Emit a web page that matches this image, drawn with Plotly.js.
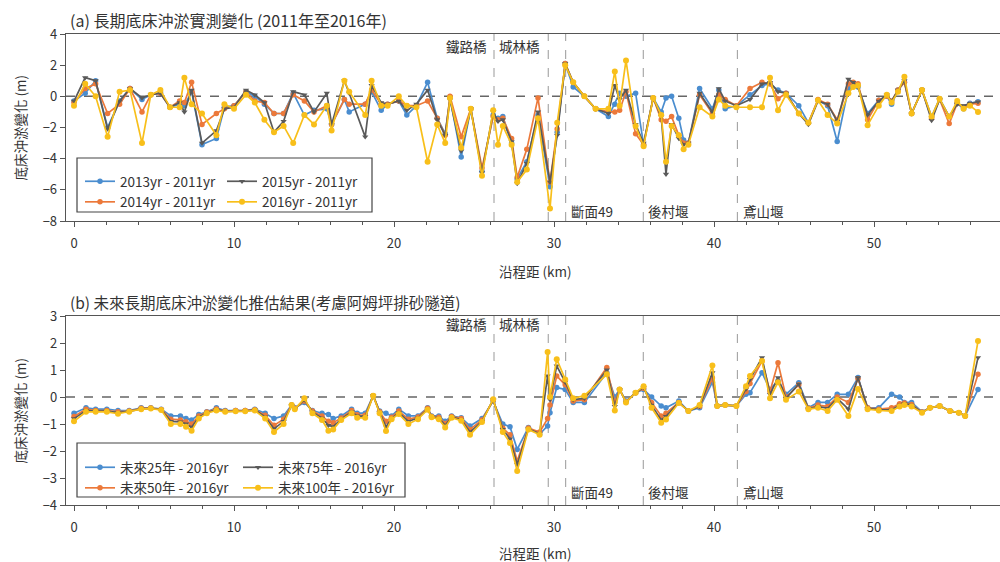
<!DOCTYPE html>
<html>
<head>
<meta charset="utf-8">
<script src="https://cdn.plot.ly/plotly-3.0.1.min.js"></script>
<style>
  html, body { margin: 0; padding: 0; background: #fff; }
  #chart { width: 1000px; height: 562px; }
</style>
</head>
<body>
<div id="chart"></div>
<script>
// (a) measured bed change, distance along channel (km)
const distA = [
  0.0, 0.7, 1.35, 2.1, 2.85, 3.5, 4.25, 4.8, 5.4, 6.0,
  6.6, 6.9, 7.35, 8.0, 8.9, 9.4, 10.0, 10.75, 11.3, 11.9,
  12.5, 13.1, 13.7, 14.4, 15.0, 15.8, 16.1, 16.9, 17.2, 18.2,
  18.6, 19.2, 19.6, 20.3, 20.8, 21.4, 22.1, 22.7, 23.2, 23.5,
  24.2, 24.8, 25.5, 26.2, 26.5, 26.8, 27.35, 27.7, 28.3, 29.0,
  29.75, 30.2, 30.7, 31.2, 31.9, 32.6, 33.4, 33.8, 34.1, 34.5,
  35.1, 35.6, 36.2, 36.7, 37.0, 37.35, 37.8, 38.1, 38.4, 39.1,
  39.9, 40.3, 40.7, 41.4, 42.25, 43.0, 43.5, 44.0, 44.5, 45.3,
  45.9, 46.5, 47.1, 47.7, 48.4, 48.7, 49.0, 49.6, 50.3, 50.8,
  51.1, 51.5, 51.9, 52.35, 53.0, 53.6, 54.1, 54.7, 55.2, 55.6,
  56.0, 56.5
];
const obs2013 = [
  -0.3, 0.2, 1.0, -2.0, -0.3, 0.5, -0.2, 0.1, 0.2, -0.7,
  -0.5, -0.6, 0.3, -3.1, -2.7, -0.7, -0.6, 0.3, 0.0, -0.5,
  -1.1, -1.1, 0.2, -1.2, -0.9, -0.8, -1.8, -0.2, -1.0, -0.5,
  0.3, -0.9, -0.5, -0.3, -1.2, -0.6, 0.9, -1.4, -2.4, -0.1,
  -3.9, -0.8, -4.8, -1.2, -1.4, -1.3, -3.0, -5.3, -4.2, -1.2,
  -5.8, -2.3, 2.1, 0.6, 0.0, -0.8, -1.3, -0.5, 0.2, 0.0,
  0.2, -3.1, -0.1, -1.0, -0.1, 0.0, -1.4, -2.8, -3.0, 0.5,
  -0.8, 0.4, -0.8, -0.6, 0.1, 0.7, 0.8, 0.4, 0.2, -0.6,
  -1.7, -0.25, -0.6, -2.9, 0.5, 0.7, 0.6, -1.1, -0.25, 0.0,
  -0.5, 0.4, 0.9, -1.1, 0.4, -1.3, -0.15, -1.3, -0.45, -0.8,
  -0.45, -0.35
];
const obs2014 = [
  -0.4, 0.5, 0.8, -1.1, -0.5, 0.5, -1.0, 0.1, 0.2, -0.7,
  -0.3, -0.4, 0.9, -1.8, -1.1, -0.8, -0.6, 0.3, -0.3, -0.4,
  -1.1, -1.1, 0.1, -0.3, -1.0, -0.6, -1.8, -0.2, -0.5, -0.5,
  0.4, -0.5, -0.5, -0.3, -0.6, -0.6, -0.3, -1.4, -2.5, 0.0,
  -2.6, -0.8, -4.6, -1.3, -1.5, -1.4, -2.7, -5.2, -3.4, -0.1,
  -5.5, -2.1, 2.1, 0.9, 0.0, -0.8, -1.0, -1.0, -0.9, 0.3,
  -2.4, -3.1, -0.1, -1.5, -1.6, -1.3, -2.5, -3.0, -3.0, 0.1,
  -1.1, 0.1, -0.2, -0.6, 0.5, 0.9, 0.8, -0.15, 0.2, -1.1,
  -1.7, -0.2, -0.5, -1.5, 0.8, 0.9, 0.8, -1.5, -0.25, 0.0,
  -0.3, 0.4, 0.9, -1.1, 0.4, -1.4, -0.2, -1.75, -0.45, -0.7,
  -0.5, -0.45
];
const obs2015 = [
  -0.3, 1.2, 1.0, -2.1, -0.3, 0.5, -0.1, 0.1, 0.2, -0.7,
  -0.4, -1.0, 0.4, -3.0, -2.2, -0.8, -0.7, 0.4, 0.1, -0.4,
  -2.3, -1.6, 0.3, 0.1, -1.0, 0.2, -1.8, 1.0, 0.2, -2.6,
  0.7, -0.4, -0.5, -0.3, -0.9, -0.5, 0.4, -1.5, -2.5, -0.2,
  -3.5, -0.8, -4.9, -1.0, -1.6, -1.5, -2.9, -5.6, -4.3, -1.0,
  -5.5, -2.5, 2.1, 0.9, 0.0, -0.8, -1.1, 0.7, -0.2, 0.4,
  -1.8, -3.0, -0.1, -1.3, -5.0, -1.8, -2.7, -3.1, -3.0, 0.2,
  -1.0, 0.5, -0.3, -0.6, -0.2, 0.8, 0.9, 0.3, 0.2, -1.1,
  -1.8, -0.3, -0.5, -1.6, 1.1, 0.9, 0.6, -1.2, -0.3, 0.1,
  -0.3, 0.4, 1.0, -1.1, 0.4, -1.55, -0.2, -1.3, -0.5, -0.6,
  -0.45, -0.35
];
const obs2016 = [
  -0.6, 0.8, 0.0, -2.6, 0.3, 0.4, -3.0, 0.1, 0.4, -0.7,
  -0.7, 1.2, -0.5, -1.1, -2.5, -0.5, -0.8, 0.1, -0.4, -1.5,
  -2.3, -1.9, -3.0, -1.2, -1.8, -0.6, -2.2, 1.0, 0.3, -1.2,
  1.0, -0.6, -0.6, 0.0, -0.6, -0.7, -4.2, -1.8, -3.0, -0.1,
  -3.3, -0.8, -5.1, -0.9, -3.1, -1.9, -3.1, -5.5, -4.7, -1.4,
  -7.2, -1.7, 2.0, 0.9, 0.0, -0.8, -0.8, 1.6, -0.6, 2.3,
  -1.9, -3.2, -0.1, -1.2, -4.2, -1.9, -2.5, -3.4, -3.1, -0.7,
  -1.3, -0.2, -0.6, -0.7, -0.7, -0.7, 1.2, -0.9, 0.1, -1.1,
  -1.7, -0.25, -1.2, -1.75, 0.2, 0.6, 0.7, -1.85, -0.6, 0.1,
  -0.4, 0.3, 1.25, -1.1, 0.4, -1.3, -0.15, -1.3, -0.3, -0.8,
  -0.6, -1.0
];

// (b) projected bed change relative to 2016
const distB = [
  0.0, 0.75, 1.35, 2.05, 2.75, 3.45, 4.2, 4.8, 5.45, 6.05,
  6.65, 7.0, 7.35, 7.8, 8.3, 8.9, 9.45, 10.1, 10.7, 11.3,
  11.95, 12.5, 13.1, 13.6, 13.8, 14.4, 14.9, 15.5, 15.9, 16.2,
  16.7, 17.35, 17.7, 18.2, 18.7, 19.1, 19.5, 19.85, 20.3, 20.9,
  21.5, 22.1, 22.35, 22.8, 23.2, 23.6, 24.2, 24.75, 25.5, 26.2,
  26.8, 27.25, 27.7, 28.4, 29.1, 29.6, 29.75, 30.17, 30.7, 31.2,
  31.9, 33.3, 33.8, 34.1, 34.5, 35.1, 35.6, 36.1, 36.7, 37.0,
  37.8, 38.4, 39.1, 39.9, 40.2, 40.7, 41.4, 42.0, 42.25, 43.0,
  43.5, 44.0, 44.5, 45.3, 45.9, 46.5, 47.1, 47.7, 48.4, 49.0,
  49.6, 50.3, 51.1, 51.6, 51.9, 52.35, 53.0, 53.5, 54.1, 54.75,
  55.3, 55.7, 56.5
];
const fut25 = [
  -0.6, -0.4, -0.45, -0.45, -0.5, -0.5, -0.4, -0.4, -0.45, -0.7,
  -0.7, -0.8, -0.85, -0.65, -0.55, -0.4, -0.5, -0.5, -0.5, -0.45,
  -0.6, -0.8, -0.7, -0.3, -0.4, -0.2, -0.5, -0.6, -0.65, -0.8,
  -0.7, -0.45, -0.6, -0.6, 0.05, -0.52, -0.6, -0.7, -0.45, -0.7,
  -0.7, -0.4, -0.7, -0.7, -0.9, -0.7, -0.77, -1.07, -0.8, -0.15,
  -1.0, -1.1, -1.94, -1.13, -1.38, -1.07, -0.58, 0.35, 0.28, -0.2,
  -0.2, 0.9, 0.0, 0.28, -0.15, 0.16, 0.28, 0.0, -0.33, -0.4,
  -0.15, -0.52, -0.4, 0.55, -0.33, -0.3, -0.33, 0.1, 0.16, 0.9,
  0.28, 0.6, 0.1, 0.53, -0.4, -0.2, -0.2, 0.1, 0.1, 0.72,
  -0.4, -0.4, 0.1, 0.0, -0.2, -0.2, -0.55, -0.4, -0.33, -0.52,
  -0.58, -0.7, 0.28
];
const fut50 = [
  -0.72, -0.45, -0.5, -0.5, -0.55, -0.52, -0.42, -0.41, -0.46, -0.82,
  -0.85, -0.92, -1.0, -0.7, -0.56, -0.44, -0.52, -0.5, -0.5, -0.47,
  -0.68, -1.05, -0.82, -0.3, -0.42, -0.15, -0.52, -0.7, -0.9, -0.95,
  -0.78, -0.5, -0.66, -0.68, 0.05, -0.55, -0.9, -0.75, -0.52, -0.82,
  -0.74, -0.42, -0.72, -0.75, -0.98, -0.72, -0.8, -1.2, -0.85, -0.12,
  -1.15, -1.4, -2.37, -1.15, -1.3, -0.8, -0.3, 0.78, 0.45, -0.15,
  -0.1, 1.09, -0.2, 0.28, -0.18, 0.16, 0.32, -0.2, -0.7, -0.6,
  -0.2, -0.52, -0.35, 0.7, -0.33, -0.3, -0.33, 0.2, 0.5, 1.33,
  0.2, 1.27, 0.0, 0.45, -0.42, -0.3, -0.35, 0.0, -0.2, 0.68,
  -0.4, -0.45, -0.4, -0.25, -0.22, -0.28, -0.56, -0.4, -0.33, -0.52,
  -0.58, -0.7, 0.84
];
const fut75 = [
  -0.8, -0.5, -0.52, -0.52, -0.58, -0.53, -0.44, -0.42, -0.47, -0.9,
  -0.92, -1.0, -1.12, -0.75, -0.58, -0.47, -0.53, -0.52, -0.52, -0.48,
  -0.74, -1.18, -0.9, -0.32, -0.44, -0.1, -0.55, -0.78, -1.05, -1.1,
  -0.82, -0.55, -0.7, -0.72, 0.05, -0.57, -1.1, -0.8, -0.58, -0.9,
  -0.78, -0.45, -0.74, -0.78, -1.05, -0.74, -0.84, -1.3, -0.9, -0.1,
  -1.2, -1.55, -2.5, -1.18, -1.36, 0.78, -0.1, 1.15, 0.55, -0.1,
  -0.05, 1.0, -0.35, 0.28, -0.2, 0.16, 0.36, -0.3, -0.85, -0.72,
  -0.2, -0.52, -0.35, 0.9, -0.33, -0.3, -0.33, 0.3, 0.65, 1.46,
  0.1, 0.72, -0.05, 0.48, -0.45, -0.35, -0.42, -0.05, -0.45, 0.72,
  -0.42, -0.48, -0.48, -0.3, -0.25, -0.3, -0.57, -0.4, -0.33, -0.52,
  -0.58, -0.7, 1.46
];
const fut100 = [
  -0.9, -0.55, -0.55, -0.55, -0.62, -0.55, -0.45, -0.43, -0.48, -1.0,
  -1.0, -1.1, -1.25, -0.8, -0.6, -0.5, -0.55, -0.53, -0.53, -0.5,
  -0.8, -1.3, -1.0, -0.3, -0.45, -0.05, -0.6, -0.85, -1.25, -1.2,
  -0.85, -0.6, -0.77, -0.77, 0.05, -0.6, -1.26, -0.82, -0.63, -1.0,
  -0.82, -0.47, -0.75, -0.82, -1.13, -0.77, -0.88, -1.4, -0.93, -0.08,
  -1.3, -1.7, -2.74, -1.2, -1.4, 1.67, 0.0, 1.4, 0.65, -0.05,
  0.05, 0.84, -0.5, 0.28, -0.2, 0.16, 0.4, -0.4, -0.95, -0.83,
  -0.22, -0.52, -0.3, 1.17, -0.33, -0.3, -0.33, 0.4, 0.78, 1.33,
  -0.05, 0.55, -0.1, 0.2, -0.45, -0.4, -0.52, -0.1, -0.7, 0.3,
  -0.45, -0.5, -0.52, -0.35, -0.3, -0.35, -0.58, -0.4, -0.33, -0.52,
  -0.58, -0.7, 2.07
];

// landmarks along the channel (km) and their labels
const siteKm    = [26.25, 29.64, 30.73, 35.58, 41.46];
const topSites  = ['鐵路橋', '城林橋'];
const lowSites  = ['斷面49', '後村堰', '鳶山堰'];

const namesA = ['2013yr - 2011yr', '2014yr - 2011yr', '2015yr - 2011yr', '2016yr - 2011yr'];
const namesB = ['未來25年 - 2016yr', '未來50年 - 2016yr', '未來75年 - 2016yr', '未來100年 - 2016yr'];

const FONT = '"Noto Sans CJK TC", "Noto Sans", sans-serif';
const TXT = '#333333';
const COLORS = ['#4a8dcf', '#ec793a', '#5a5a5a', '#f8bf1a'];
const SYMBOLS = ['circle', 'circle', 'triangle-down', 'circle'];
const SIZES = [5.5, 5.5, 5.5, 6];

// plot frame in page pixels, used to place paper-referenced items
const W = 1000, H = 562, L = 66, T = 34, B = 505;
const px = v => (v - L) / (W - L);
const py = v => (B - v) / (B - T);

function makeTraces(x, ys, names, xa, ya, legends) {
  return ys.map((y, i) => ({
    type: 'scatter', mode: 'lines+markers', x: x, y: y, name: names[i],
    xaxis: xa, yaxis: ya, legend: legends[i < 2 ? 0 : 1],
    line: { color: COLORS[i], width: 1.7 },
    marker: { color: COLORS[i], size: SIZES[i], symbol: SYMBOLS[i] }
  }));
}

const traces = [
  ...makeTraces(distA, [obs2013, obs2014, obs2015, obs2016], namesA, 'x', 'y', ['legend', 'legend2']),
  ...makeTraces(distB, [fut25, fut50, fut75, fut100], namesB, 'x2', 'y2', ['legend3', 'legend4'])
];

const xBase = {
  range: [-0.5, 57.875], dtick: 10, tick0: 0,
  showline: true, linecolor: '#555', linewidth: 1.3, mirror: true,
  ticks: 'outside', ticklen: 5, tickcolor: '#555',
  minor: { dtick: 2, ticks: 'outside', ticklen: 3, tickcolor: '#555' },
  showgrid: false, zeroline: false,
  tickfont: { size: 13, color: TXT, family: FONT },
  ticklabelstandoff: 5
};
const yBase = {
  showline: true, linecolor: '#555', linewidth: 1.3,
  ticks: 'outside', ticklen: 5, tickcolor: '#555',
  showgrid: false, zeroline: false,
  tickfont: { size: 13, color: TXT, family: FONT }
};

const domA = [py(221), 1];
const domB = [0, py(316)];

const shapes = [];
[['x', 'y'], ['x2', 'y2']].forEach(([xa, ya]) => {
  shapes.push({ type: 'line', xref: xa + ' domain', yref: ya, x0: 0, x1: 1, y0: 0, y1: 0,
    line: { color: '#666', width: 1.5, dash: 'dash' }, layer: 'below' });
  siteKm.forEach(k => shapes.push({ type: 'line', xref: xa, yref: ya + ' domain', x0: k, x1: k, y0: 0, y1: 1,
    line: { color: '#999', width: 1, dash: 'dash' }, layer: 'below' }));
});
// legend frames
shapes.push({ type: 'rect', xref: 'paper', yref: 'paper', x0: px(77), x1: px(372), y0: py(212), y1: py(158),
  line: { color: '#444', width: 1.2 }, fillcolor: 'rgba(255,255,255,0.9)' });
shapes.push({ type: 'rect', xref: 'paper', yref: 'paper', x0: px(77), x1: px(405), y0: py(497), y1: py(443),
  line: { color: '#444', width: 1.2 }, fillcolor: 'rgba(255,255,255,0.9)' });

const ann = [];
const textFont = { family: FONT, size: 13.5, color: TXT };
[['x', 'y', 3.2, -7.35], ['x2', 'y2', 2.7, -3.5]].forEach(([xa, ya, yTop, yLow]) => {
  ann.push({ xref: xa, yref: ya, x: siteKm[0] - 0.3, y: yTop, text: topSites[0], showarrow: false, xanchor: 'right', font: textFont });
  ann.push({ xref: xa, yref: ya, x: siteKm[0] + 0.2, y: yTop, text: topSites[1], showarrow: false, xanchor: 'left', font: textFont });
  lowSites.forEach((s, i) => ann.push({ xref: xa, yref: ya, x: siteKm[i + 2] + 0.2, y: yLow, text: s,
    showarrow: false, xanchor: 'left', font: textFont }));
});
// panel titles
ann.push({ xref: 'paper', yref: 'paper', x: px(68), y: py(20), xanchor: 'left', yanchor: 'middle', showarrow: false,
  text: '(a) 長期底床沖淤實測變化 (2011年至2016年)', font: { family: FONT, size: 16, color: TXT } });
ann.push({ xref: 'paper', yref: 'paper', x: px(68), y: py(302), xanchor: 'left', yanchor: 'middle', showarrow: false,
  text: '(b) 未來長期底床沖淤變化推估結果(考慮阿姆坪排砂隧道)', font: { family: FONT, size: 15.5, color: TXT } });
// axis titles
[[271, 127.5], [553, 410.5]].forEach(([xt, yc]) => {
  ann.push({ xref: 'paper', yref: 'paper', x: px(535), y: py(xt), xanchor: 'center', yanchor: 'middle', showarrow: false,
    text: '沿程距 (km)', font: textFont });
  ann.push({ xref: 'paper', yref: 'paper', x: px(20), y: py(yc), xanchor: 'center', yanchor: 'middle', showarrow: false,
    text: '底床沖淤變化 (m)', textangle: -90, font: textFont });
});

const legBase = { orientation: 'v', bgcolor: 'rgba(0,0,0,0)', borderwidth: 0, xanchor: 'left', yanchor: 'top',
  font: { family: FONT, size: 13.5, color: TXT }, tracegroupgap: 0, itemwidth: 30 };

const layout = {
  width: W, height: H,
  margin: { l: L, r: 0, t: T, b: H - B },
  paper_bgcolor: '#fff', plot_bgcolor: '#fff',
  font: { family: FONT, color: TXT },
  xaxis: { ...xBase, anchor: 'y' },
  yaxis: { ...yBase, domain: domA, range: [-8, 4], dtick: 2, anchor: 'x' },
  xaxis2: { ...xBase, anchor: 'y2' },
  yaxis2: { ...yBase, domain: domB, range: [-4, 3], dtick: 1, anchor: 'x2' },
  shapes: shapes,
  annotations: ann,
  legend:  { ...legBase, x: px(80),  y: py(166) },
  legend2: { ...legBase, x: px(222), y: py(166) },
  legend3: { ...legBase, x: px(80),  y: py(452) },
  legend4: { ...legBase, x: px(238), y: py(452) }
};

Plotly.newPlot('chart', traces, layout, { displayModeBar: false, staticPlot: true });
</script>
</body>
</html>
